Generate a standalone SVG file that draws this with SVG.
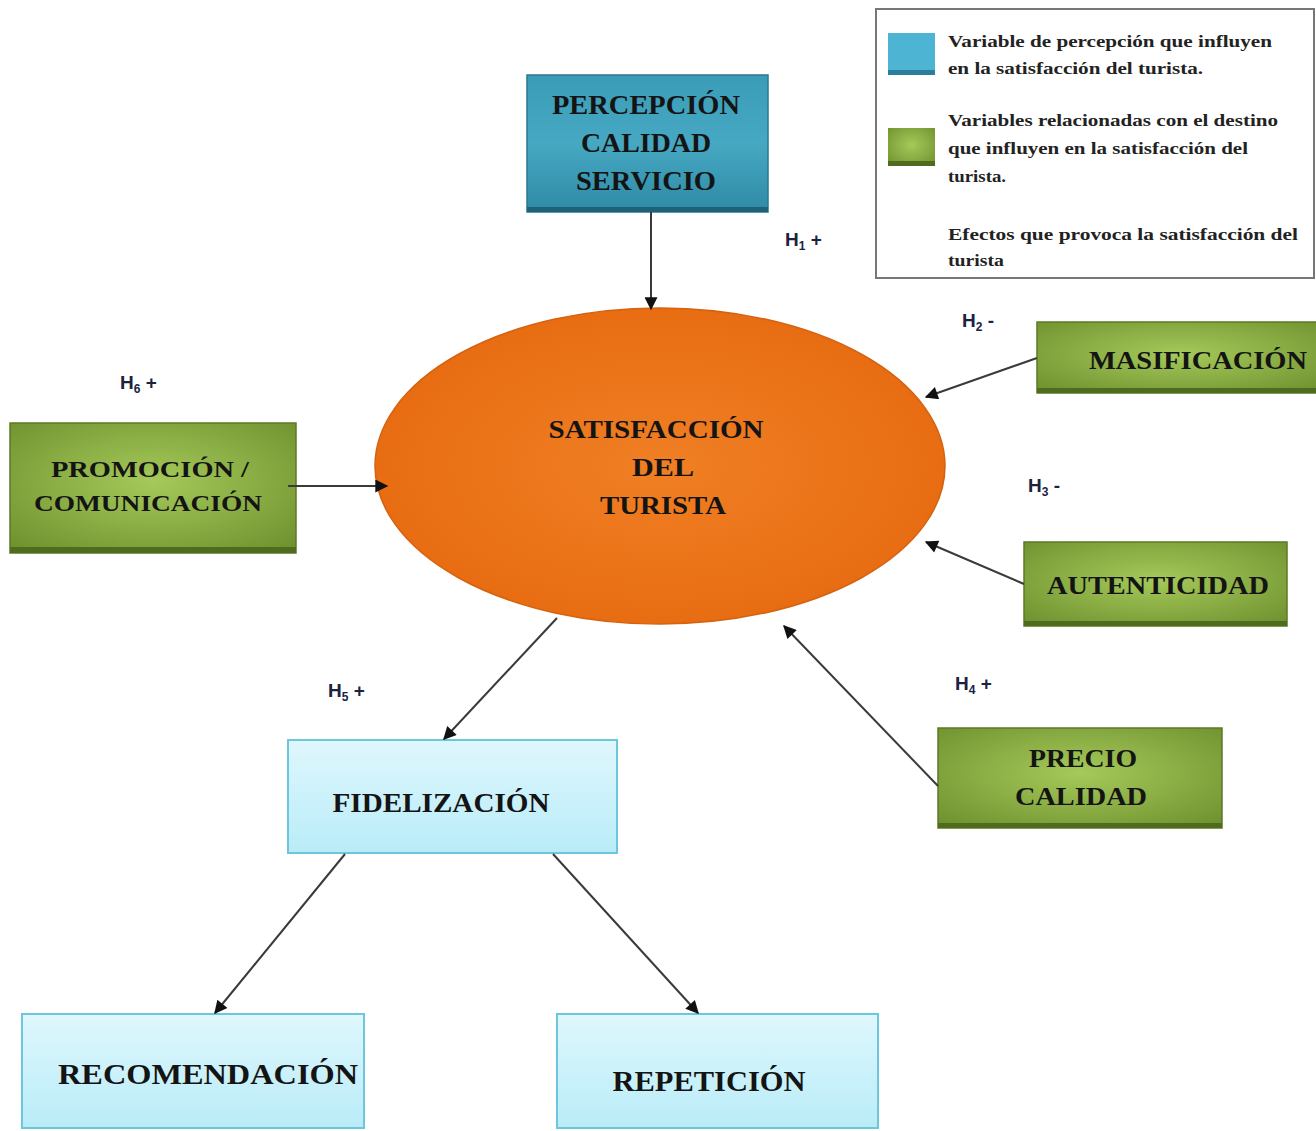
<svg xmlns="http://www.w3.org/2000/svg" width="1316" height="1131" viewBox="0 0 1316 1131">
<style>
.t{font-family:"Liberation Serif","DejaVu Serif",serif;font-weight:bold;fill:#141414;text-anchor:middle}
.lg{font-family:"Liberation Serif","DejaVu Serif",serif;font-weight:bold;fill:#222;font-size:16px}
.h{font-family:"Liberation Sans","DejaVu Sans",sans-serif;font-weight:bold;fill:#1c2340;font-size:19px}
.hs{font-size:12px}
.c{stroke:#3a3a3a;stroke-width:2;fill:none;marker-end:url(#ah)}
.green{fill:url(#gg);stroke:#5d7a25;stroke-width:1.5}
.blue{fill:url(#gb);stroke:#6cc6dc;stroke-width:2}
</style>
<defs>
<marker id="ah" viewBox="0 0 10 10" refX="9" refY="5" markerWidth="15" markerHeight="13" orient="auto" markerUnits="userSpaceOnUse">
<path d="M0,0 L10,5 L0,10 z" fill="#111"/>
</marker>
<radialGradient id="gg" cx="0.5" cy="0.45" r="0.7">
<stop offset="0" stop-color="#a6c95a"/>
<stop offset="1" stop-color="#6f9230"/>
</radialGradient>
<linearGradient id="gb" x1="0" y1="0" x2="0" y2="1">
<stop offset="0" stop-color="#dff7fd"/>
<stop offset="1" stop-color="#b9ecf8"/>
</linearGradient>
<linearGradient id="gt" x1="0" y1="0" x2="0" y2="1">
<stop offset="0" stop-color="#3b9cb8"/>
<stop offset="0.5" stop-color="#46a8c2"/>
<stop offset="1" stop-color="#2f8aa6"/>
</linearGradient>
<radialGradient id="go" cx="0.5" cy="0.5" r="0.5">
<stop offset="0" stop-color="#f07f24"/>
<stop offset="1" stop-color="#e86d12"/>
</radialGradient>
</defs>

<g id="legend">
<rect x="876" y="9" width="438" height="269" fill="#fff" stroke="#777" stroke-width="2"/>
<rect x="888" y="33" width="47" height="42" fill="#4db4d4"/>
<rect x="888" y="70" width="47" height="5" fill="#2a7f9c"/>
<rect x="888" y="128" width="47" height="38" fill="url(#gg)"/>
<rect x="888" y="161" width="47" height="5" fill="#4e6b1e"/>
<text class="lg" x="948" y="47" textLength="324" lengthAdjust="spacingAndGlyphs">Variable de percepción que influyen</text>
<text class="lg" x="948" y="74" textLength="255" lengthAdjust="spacingAndGlyphs">en la satisfacción del turista.</text>
<text class="lg" x="948" y="126" textLength="330" lengthAdjust="spacingAndGlyphs">Variables relacionadas  con el destino</text>
<text class="lg" x="948" y="154" textLength="300" lengthAdjust="spacingAndGlyphs">que influyen en la satisfacción del</text>
<text class="lg" x="948" y="182" textLength="58" lengthAdjust="spacingAndGlyphs">turista.</text>
<text class="lg" x="948" y="240" textLength="350" lengthAdjust="spacingAndGlyphs">Efectos que provoca la satisfacción del</text>
<text class="lg" x="948" y="266" textLength="56" lengthAdjust="spacingAndGlyphs">turista</text>
</g>

<g id="labels">
<text class="h" x="785" y="246">H<tspan class="hs" dy="4">1</tspan><tspan dy="-4"> +</tspan></text>
<text class="h" x="962" y="327">H<tspan class="hs" dy="4">2</tspan><tspan dy="-4"> -</tspan></text>
<text class="h" x="1028" y="492">H<tspan class="hs" dy="4">3</tspan><tspan dy="-4"> -</tspan></text>
<text class="h" x="955" y="690">H<tspan class="hs" dy="4">4</tspan><tspan dy="-4"> +</tspan></text>
<text class="h" x="328" y="697">H<tspan class="hs" dy="4">5</tspan><tspan dy="-4"> +</tspan></text>
<text class="h" x="120" y="389">H<tspan class="hs" dy="4">6</tspan><tspan dy="-4"> +</tspan></text>
</g>

<g id="percepcion">
<rect x="527" y="75" width="241" height="137" fill="url(#gt)" stroke="#2a7890" stroke-width="1.5"/>
<rect x="527" y="207" width="241" height="5" fill="#1f6277"/>
<text class="t" x="646" y="114" font-size="27" textLength="188" lengthAdjust="spacingAndGlyphs">PERCEPCIÓN</text>
<text class="t" x="646" y="152" font-size="27" textLength="130" lengthAdjust="spacingAndGlyphs">CALIDAD</text>
<text class="t" x="646" y="190" font-size="27" textLength="140" lengthAdjust="spacingAndGlyphs">SERVICIO</text>
</g>

<g id="satisfaccion">
<ellipse cx="660" cy="466" rx="285" ry="158" fill="url(#go)" stroke="#d5620e" stroke-width="1.5"/>
<text class="t" x="656" y="438" font-size="25" textLength="215" lengthAdjust="spacingAndGlyphs">SATISFACCIÓN</text>
<text class="t" x="663" y="476" font-size="25" textLength="62" lengthAdjust="spacingAndGlyphs">DEL</text>
<text class="t" x="663" y="514" font-size="25" textLength="126" lengthAdjust="spacingAndGlyphs">TURISTA</text>
</g>

<g id="promocion">
<rect x="10" y="423" width="286" height="130" class="green"/>
<rect x="10" y="547" width="286" height="6" fill="#4e6b1e"/>
<text class="t" x="150" y="477" font-size="24" textLength="198" lengthAdjust="spacingAndGlyphs">PROMOCIÓN /</text>
<text class="t" x="148" y="511" font-size="24" textLength="228" lengthAdjust="spacingAndGlyphs">COMUNICACIÓN</text>
</g>

<g id="masificacion">
<rect x="1037" y="322" width="285" height="71" class="green"/>
<rect x="1037" y="388" width="285" height="5" fill="#4e6b1e"/>
<text class="t" x="1198" y="369" font-size="26" textLength="218" lengthAdjust="spacingAndGlyphs">MASIFICACIÓN</text>
</g>

<g id="autenticidad">
<rect x="1024" y="542" width="263" height="84" class="green"/>
<rect x="1024" y="621" width="263" height="5" fill="#4e6b1e"/>
<text class="t" x="1158" y="594" font-size="26" textLength="222" lengthAdjust="spacingAndGlyphs">AUTENTICIDAD</text>
</g>

<g id="precio">
<rect x="938" y="728" width="284" height="100" class="green"/>
<rect x="938" y="823" width="284" height="5" fill="#4e6b1e"/>
<text class="t" x="1083" y="767" font-size="26" textLength="108" lengthAdjust="spacingAndGlyphs">PRECIO</text>
<text class="t" x="1081" y="805" font-size="26" textLength="132" lengthAdjust="spacingAndGlyphs">CALIDAD</text>
</g>

<g id="fidelizacion">
<rect x="288" y="740" width="329" height="113" class="blue"/>
<text class="t" x="441" y="812" font-size="27" textLength="217" lengthAdjust="spacingAndGlyphs">FIDELIZACIÓN</text>
</g>

<g id="recomendacion">
<rect x="22" y="1014" width="342" height="114" class="blue"/>
<text class="t" x="208" y="1084" font-size="30" textLength="300" lengthAdjust="spacingAndGlyphs">RECOMENDACIÓN</text>
</g>

<g id="repeticion">
<rect x="557" y="1014" width="321" height="114" class="blue"/>
<text class="t" x="709" y="1091" font-size="30" textLength="193" lengthAdjust="spacingAndGlyphs">REPETICIÓN</text>
</g>

<g id="connectors">
<line class="c" x1="651" y1="212" x2="651" y2="309"/>
<line class="c" x1="288" y1="486" x2="387" y2="486"/>
<line class="c" x1="1037" y1="358" x2="926" y2="397"/>
<line class="c" x1="1024" y1="584" x2="926" y2="542"/>
<line class="c" x1="938" y1="786" x2="784" y2="626"/>
<line class="c" x1="557" y1="618" x2="444" y2="739"/>
<line class="c" x1="345" y1="854" x2="215" y2="1013"/>
<line class="c" x1="553" y1="854" x2="698" y2="1013"/>
</g>
</svg>
